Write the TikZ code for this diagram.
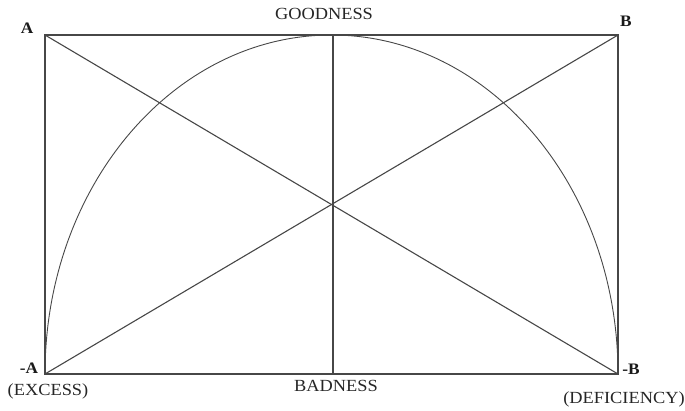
\documentclass[tikz,border=0pt]{standalone}
\usepackage{fontspec}
\setmainfont{Liberation Serif}
\newfontfamily\labfont[FakeStretch=1.08]{Liberation Serif}
\begin{document}
\begin{tikzpicture}[x=1pt,y=-1pt,
  ln/.style={draw=black!72, line width=1.1pt},
  arcln/.style={draw=black!72, line width=0.9pt},
  lab/.style={font=\labfont\fontsize{17}{18}\selectfont, inner sep=0pt, text=black!85},
  blab/.style={font=\labfont\bfseries\fontsize{16}{18}\selectfont, inner sep=0pt, text=black!90}]
\useasboundingbox (0,0) rectangle (685,411);
\coordinate (A) at (45,35);
\coordinate (B) at (618,35);
\coordinate (mA) at (45,374);
\coordinate (mB) at (618,374);
\coordinate (top) at (333,35);
\coordinate (bot) at (333,374);
% rectangle
\draw[ln] (A) -- (B) -- (mB) -- (mA) -- cycle;
% diagonals
\draw[ln] (A) -- (mB);
\draw[ln] (B) -- (mA);
% vertical
\draw[ln] (top) -- (bot);
% semi-ellipse
\draw[arcln] (mA) arc[start angle=180, end angle=360, x radius=286.5, y radius=339];
% labels
\node[blab] (lA) at (27,28) {A};
\node[blab] (lB) at (626,21) {B};
\node[blab] (lmA) at (29,368) {-A};
\node[blab] (lmB) at (631,369) {-B};
\node[lab] (good) at (324,14) {GOODNESS};
\node[lab] (bad) at (336,386) {BADNESS};
\node[lab] (exc) at (48,391) {(EXCESS)};
\node[lab] (def) at (624,399) {(DEFICIENCY)};
\end{tikzpicture}
\end{document}
